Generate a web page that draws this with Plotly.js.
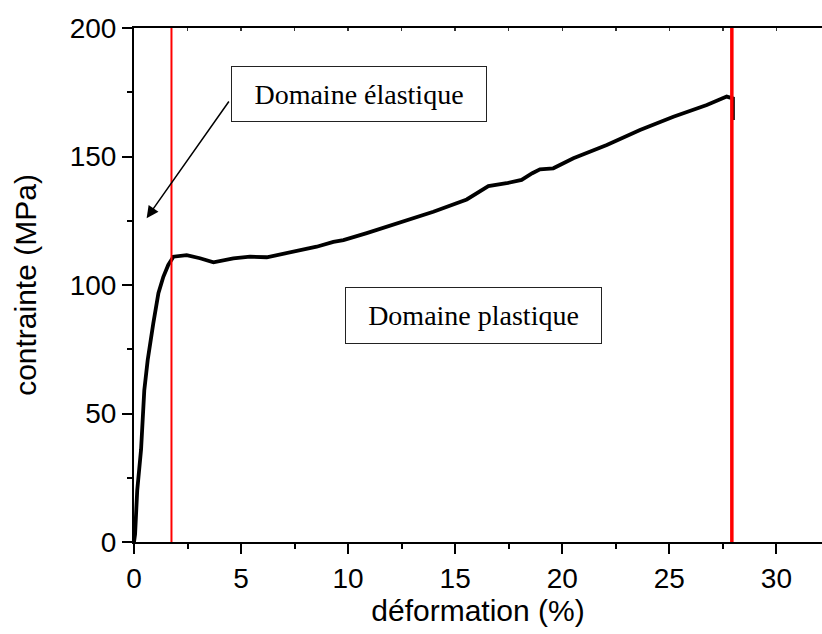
<!DOCTYPE html>
<html>
<head>
<meta charset="utf-8">
<script src="https://cdn.plot.ly/plotly-3.0.1.min.js"></script>
<style>html,body{margin:0;padding:0;background:#fff;}#chart{width:822px;height:634px;}</style>
</head>
<body>
<div id="chart"></div>
<script>
// strain (%) and stress (MPa)
const strain = [0, 0.05, 0.15, 0.33, 0.48, 0.64, 0.9, 1.14, 1.37, 1.6, 1.84, 2.3, 2.46, 3.08, 3.71, 4.64, 5.42, 6.2, 7.13, 7.75, 8.53, 9.31, 9.78, 10.87, 12.42, 13.98, 15.54, 16.0, 16.55, 17.4, 18.1, 18.6, 18.96, 19.58, 20.52, 22.08, 23.63, 25.19, 26.75, 27.68, 27.85, 27.97, 27.97];
const stress = [0, 3, 20, 36, 59, 70.8, 85, 96.8, 103.2, 107.8, 111, 111.7, 111.6, 110.4, 108.8, 110.4, 111, 110.8, 112.3, 113.6, 114.9, 116.8, 117.5, 120.2, 124.2, 128.5, 133.3, 135.7, 138.5, 139.6, 140.9, 143.5, 145, 145.4, 149.3, 154.5, 160.3, 165.5, 170, 173.3, 172.9, 172.6, 164.2];

// vertical red boundary lines (strain %)
const boundaries = [1.75, 27.92];
const boundaryWidths = [2, 3.5];

// annotation labels
const elasticLabel = 'Domaine élastique';
const plasticLabel = 'Domaine plastique';
const elasticBox = {x: 10.53, y: 174.3};
const plasticBox = {x: 15.87, y: 88.2};
const arrowHead = {x: 0.59, y: 126};
const arrowTail = {x: 4.48, y: 172};

const xRange = [0, 32.13];
const yRange = [0, 200];

const sans = 'Liberation Sans, Arial, sans-serif';
const serif = 'Liberation Serif, Times New Roman, serif';

const traces = [
  {x: strain, y: stress, type: 'scatter', mode: 'lines', line: {color: '#000', width: 3.8}, hoverinfo: 'skip', showlegend: false},
  {x: [], y: [], xaxis: 'x2', type: 'scatter', mode: 'lines', showlegend: false}
];

const shapes = boundaries.map((b, i) => ({
  type: 'line', xref: 'x', yref: 'paper', x0: b, x1: b, y0: 0, y1: 1,
  line: {color: '#ff0000', width: boundaryWidths[i]}, layer: 'above'
}));

const annotations = [
  {xref: 'x', yref: 'y', x: elasticBox.x, y: elasticBox.y, text: elasticLabel, showarrow: false,
   font: {family: serif, size: 28, color: '#000'}, bgcolor: '#fff', bordercolor: '#222', borderwidth: 1,
   borderpad: 2, width: 250, height: 50},
  {xref: 'x', yref: 'y', x: plasticBox.x, y: plasticBox.y, text: plasticLabel, showarrow: false,
   font: {family: serif, size: 28, color: '#000'}, bgcolor: '#fff', bordercolor: '#222', borderwidth: 1,
   borderpad: 2, width: 251, height: 51},
  {xref: 'x', yref: 'y', x: arrowHead.x, y: arrowHead.y, axref: 'x', ayref: 'y', ax: arrowTail.x, ay: arrowTail.y,
   text: '', showarrow: true, arrowhead: 2, arrowsize: 1.6, arrowwidth: 1.5, arrowcolor: '#000'}
];

const layout = {
  width: 822, height: 634,
  margin: {l: 134, r: 0, t: 28, b: 92},
  paper_bgcolor: '#fff', plot_bgcolor: '#fff',
  showlegend: false,
  xaxis: {
    range: xRange, tick0: 0, dtick: 5, ticks: 'outside', ticklen: 10, tickwidth: 2, tickcolor: '#000',
    showline: true, linewidth: 2, linecolor: '#000', mirror: true, showgrid: false, zeroline: false,
    tickfont: {family: sans, size: 28, color: '#000'},
    minor: {dtick: 2.5, tick0: 0, ticks: 'outside', ticklen: 5, tickwidth: 2, tickcolor: '#000', showgrid: false},
    title: {text: 'déformation (%)', font: {family: sans, size: 30, color: '#000'}, standoff: 6}
  },
  xaxis2: {
    range: xRange, overlaying: 'x', side: 'top', anchor: 'y', tick0: 0, dtick: 2.5, ticks: 'inside', ticklen: 3,
    tickwidth: 1.5, tickcolor: '#333', showticklabels: false, showgrid: false, zeroline: false, showline: false
  },
  yaxis: {
    range: yRange, tick0: 0, dtick: 50, ticks: 'outside', ticklen: 10, tickwidth: 2, tickcolor: '#000',
    showline: true, linewidth: 2, linecolor: '#000', showgrid: false, zeroline: false,
    tickfont: {family: sans, size: 28, color: '#000'},
    minor: {dtick: 25, tick0: 0, ticks: 'outside', ticklen: 5, tickwidth: 2, tickcolor: '#000', showgrid: false},
    title: {text: 'contrainte (MPa)', font: {family: sans, size: 30, color: '#000'}, standoff: 24}
  },
  shapes: shapes,
  annotations: annotations
};

Plotly.newPlot('chart', traces, layout, {displayModeBar: false, staticPlot: true});
</script>
</body>
</html>
